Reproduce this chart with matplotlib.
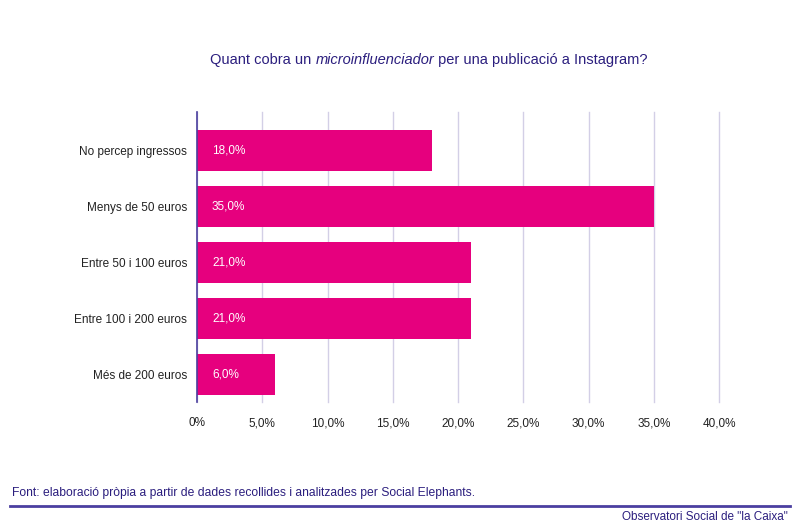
import matplotlib.pyplot as plt
from matplotlib.lines import Line2D

plt.rcParams['font.family'] = ['Liberation Sans', 'DejaVu Sans']

# data
categories = ['No percep ingressos', 'Menys de 50 euros', 'Entre 50 i 100 euros',
              'Entre 100 i 200 euros', 'Més de 200 euros']
values = [18.0, 35.0, 21.0, 21.0, 6.0]
xticks = [0, 5, 10, 15, 20, 25, 30, 35, 40]
xtick_labels = ['0%', '5,0%', '10,0%', '15,0%', '20,0%', '25,0%', '30,0%', '35,0%', '40,0%']

bar_color = '#E6007E'
navy = '#2B1E7E'
grid_color = '#D3CFE6'

fig = plt.figure(figsize=(8, 5.31), dpi=100)
ax = fig.add_axes([197 / 800, 1 - 402 / 531, (719 - 197) / 800, 290 / 531])

ypos = list(range(len(categories)))
ax.barh(ypos, values, height=0.73, color=bar_color, zorder=3)
ax.set_ylim(4.491, -0.6875)
ax.set_xlim(0, 40)

for y, v in zip(ypos, values):
    ax.text(1.15, y, f'{v:.1f}%'.replace('.', ','), color='white', va='center',
            ha='left', fontsize=8.5, zorder=4)

ax.set_yticks(ypos)
ax.set_yticklabels(categories, fontsize=8.5, color='#222222')
ax.set_xticks(xticks)
ax.set_xticklabels(xtick_labels, fontsize=8.5, color='#222222')
ax.tick_params(axis='both', length=0)
ax.tick_params(axis='x', pad=11)
ax.tick_params(axis='y', pad=7)
ax.xaxis.grid(True, color=grid_color, linewidth=1, zorder=0)
for gl in ax.get_xgridlines():
    gl.set_clip_on(False)
for side in ['top', 'right', 'bottom']:
    ax.spines[side].set_visible(False)
ax.spines['left'].set_color('#4B3F9E')
ax.spines['left'].set_linewidth(1.2)
ax.spines['left'].set_zorder(5)

# title with one word in italics
ty = 1 - 60 / 531
t1 = fig.text(210 / 800, ty, 'Quant cobra un ', color=navy, fontsize=10.5, va='center')
fig.canvas.draw()
r = fig.canvas.get_renderer()
bb = t1.get_window_extent(r)
t2 = fig.text(bb.x1 / 800, ty, 'microinfluenciador', color=navy, fontsize=10.5,
              va='center', style='italic')
bb2 = t2.get_window_extent(r)
fig.text(bb2.x1 / 800, ty, ' per una publicació a Instagram?', color=navy,
         fontsize=10.5, va='center')

fig.text(12 / 800, 1 - 493 / 531,
         'Font: elaboració pròpia a partir de dades recollides i analitzades per Social Elephants.',
         color=navy, fontsize=8.7, va='center')
fig.add_artist(Line2D([10 / 800, 790 / 800], [1 - 506 / 531, 1 - 506 / 531],
                      color='#4B3FA0', linewidth=2))
fig.text(788 / 800, 1 - 517 / 531, 'Observatori Social de "la Caixa"', color=navy,
         fontsize=8.5, va='center', ha='right')

fig.savefig('out.png', dpi=100)
